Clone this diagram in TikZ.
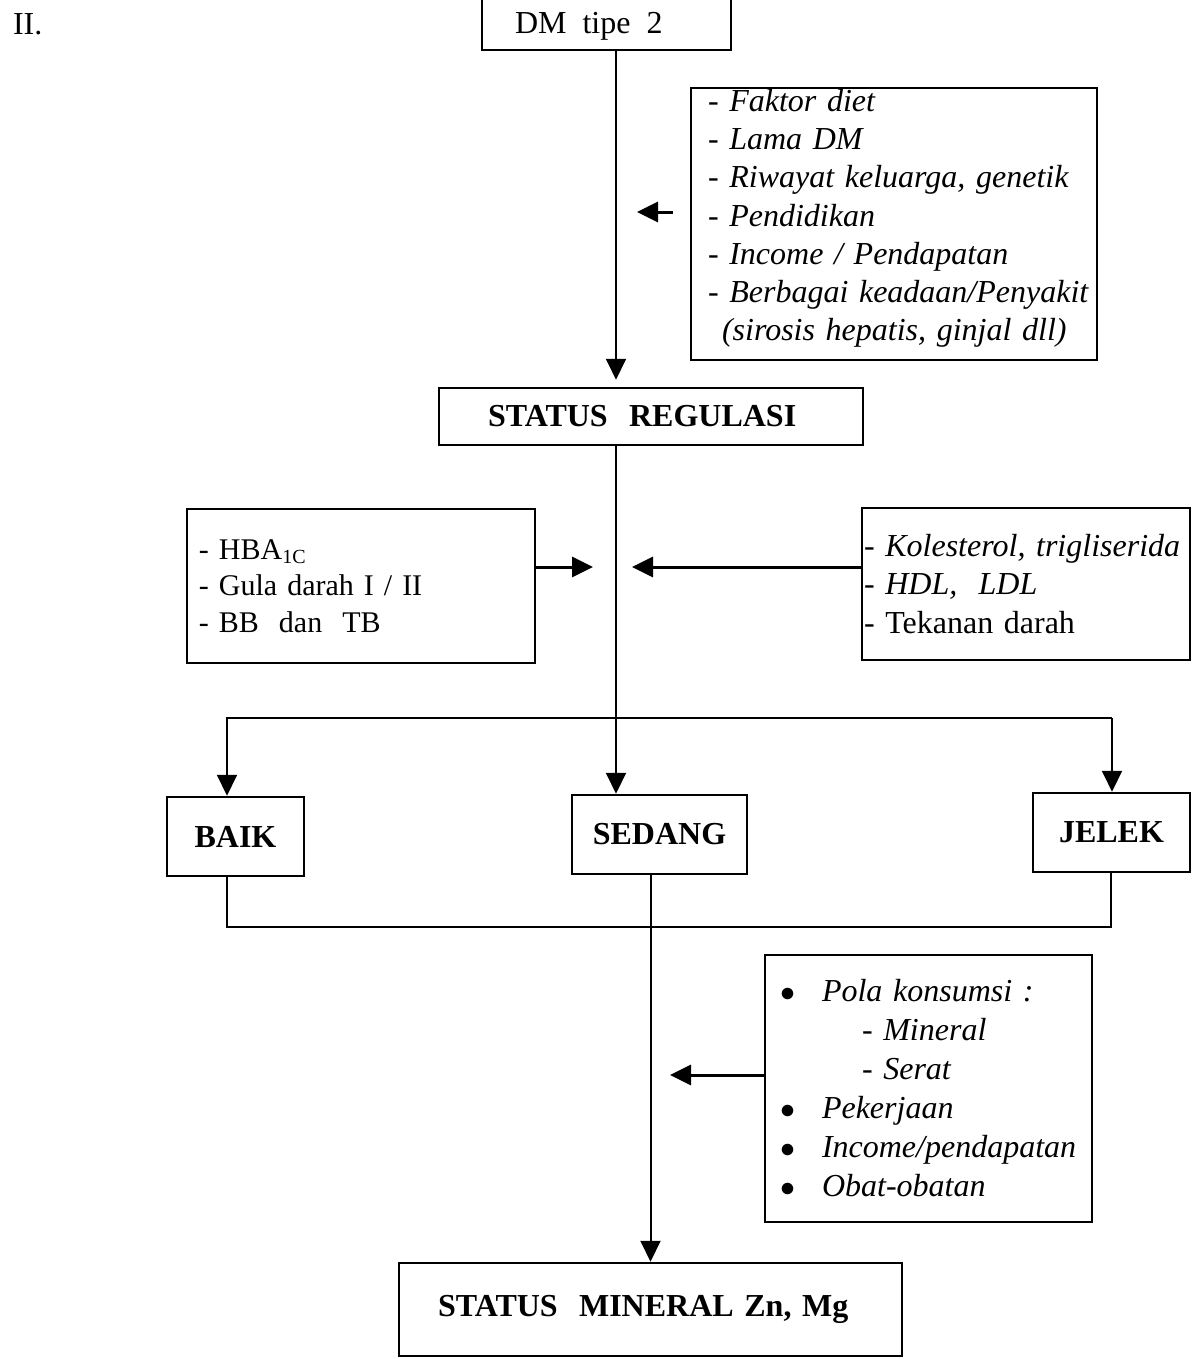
\documentclass[tikz,border=0pt]{standalone}
\usepackage{fontspec}
\setmainfont{Liberation Serif}
\usetikzlibrary{arrows.meta, positioning}
\hyphenpenalty=10000
\newcommand{\hurufbesar}{\fontsize{12.8}{15.3}\selectfont}
\newcommand{\hurufsedang}{\fontsize{12}{14.6}\selectfont}
\newcommand{\hurufbawah}{\fontsize{12.8}{15.6}\selectfont}
\newcommand{\titik}{\makebox[16.8pt][l]{\upshape$\bullet$}}

\begin{document}
\begin{tikzpicture}[x=0.4pt, y=-0.4pt, line width=0.8pt, >={Triangle[length=8.4pt,width=8pt]}]
\tikzstyle{every node}+=[inner sep=0pt, font=\hurufbesar]
\tikzstyle{kotak}=[draw, rectangle, line width=1pt, align=left]
\tikzstyle{panah}=[->, line width=0.8pt]
\tikzstyle{panah tebal}=[->, line width=1.2pt]
\useasboundingbox (0,0) rectangle (1193,1359);

% kotak-kotak
\node[anchor=west] (nomor) at (12,24) {II.};
\node[kotak, minimum height=24pt, text width=73.2pt, inner xsep=13.2pt] (dm) at (606.5,20)
  {\raisebox{-2.4pt}[\height][\depth]{DM~\,tipe~\,2}};
\node[kotak, minimum height=108.8pt, text width=148.8pt, inner xsep=6.8pt, font=\hurufbesar\itshape] (faktor) at (894,224)
  {- Faktor diet\\
   - Lama DM\\
   - Riwayat keluarga, genetik\\
   - Pendidikan\\
   - Income / Pendapatan\\
   \mbox{- Berbagai keadaan/Penyakit}\\
   \hspace*{5.6pt}(sirosis hepatis, ginjal dll)\rule[-7.2pt]{0pt}{0pt}};
\node[kotak, minimum height=22.8pt, text width=130.4pt, inner xsep=19.6pt, font=\hurufbesar\bfseries] (regulasi) at (651,416.5) {STATUS~~REGULASI};
\node[kotak, minimum height=61.6pt, text width=129.6pt, inner xsep=4.8pt, font=\hurufsedang] (kiri) at (361,586)
  {- HBA\textsubscript{1C}\\
   - Gula darah I / II\\
   - BB~~dan~~TB};
\node[kotak, minimum height=60.8pt, text width=129.6pt, inner xsep=0.8pt] (kanan) at (1026,584)
  {\textit{- Kolesterol, trigliserida}\\
   \textit{- HDL,~~LDL}\\
   - Tekanan darah};
\node[kotak, minimum width=54.8pt, minimum height=31.6pt, align=center, font=\hurufbesar\bfseries] (baik) at (235.5,836.5) {BAIK};
\node[kotak, minimum width=70pt, minimum height=31.6pt, align=center, font=\hurufbesar\bfseries] (sedang) at (659.5,834.5) {SEDANG};
\node[kotak, minimum width=62.8pt, minimum height=31.6pt, align=center, font=\hurufbesar\bfseries] (jelek) at (1111.5,832.5) {JELEK};
\node[kotak, minimum height=106.8pt, text width=118.8pt, inner xsep=6pt, font=\hurufbawah\itshape] (bawah) at (928.5,1088.5)
  {\titik Pola konsumsi :\\
   \hspace*{32.8pt}- Mineral\\
   \hspace*{32.8pt}- Serat\\
   \titik Pekerjaan\\
   \titik\mbox{Income/pendapatan}\\
   \titik Obat-obatan};
\node[kotak, minimum height=37.2pt, text width=170pt, inner xsep=15.6pt, font=\hurufbesar\bfseries] (mineral) at (650.5,1309.5) {STATUS~~MINERAL Zn, Mg};

% titik bantu
\coordinate (sumbu) at (616,0);
\coordinate (cabkiri) at (227,718);
\coordinate (cabkanan) at (1112,718);
\coordinate (gabkiri) at (227,927);
\coordinate (gabkanan) at (1111,927);
\coordinate (keluar1) at (673,212);
\coordinate (masuk1) at (637,212);
\coordinate (masuk2) at (593,567);
\coordinate (masuk3) at (632,567);
\coordinate (masuk4) at (670,1075);

% alur utama
\draw[panah] (dm.south -| sumbu) -- ([yshift=2.8pt]regulasi.north -| sumbu);
\draw[panah] (regulasi.south -| sumbu) -- (sedang.north -| sumbu);
\draw[panah] (cabkanan) -- (cabkiri) -- (cabkiri |- baik.north);
\draw[panah] (cabkanan) -- (cabkanan |- jelek.north);
\draw (gabkiri |- baik.south) -- (gabkiri) -- (gabkanan) -- (gabkanan |- jelek.south);
\draw[panah] (sedang.south -| mineral.north) -- (mineral.north);

% faktor pengaruh
\draw[panah tebal] (keluar1) -- (masuk1);
\draw[panah tebal] (kiri.east |- masuk2) -- (masuk2);
\draw[panah tebal] (kanan.west |- masuk3) -- (masuk3);
\draw[panah tebal] (bawah.west |- masuk4) -- (masuk4);
\end{tikzpicture}
\end{document}
